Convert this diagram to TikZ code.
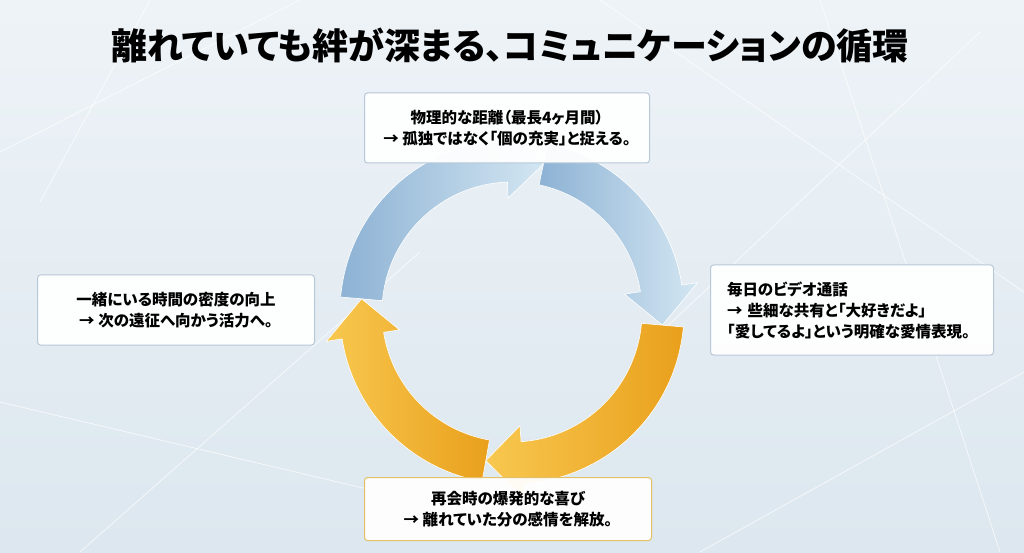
\documentclass[tikz,border=0pt]{standalone}
\usepackage{fontspec}
\setmainfont{Noto Sans CJK JP}[RawFeature=+palt]
\definecolor{bgA}{HTML}{DCE7EF}
\definecolor{bgB}{HTML}{EEF3F7}
\definecolor{blueD}{HTML}{8DB2D4}
\definecolor{blueL}{HTML}{D3E6F2}
\definecolor{orD}{HTML}{E9A01C}
\definecolor{orL}{HTML}{F8C850}
\definecolor{boxline}{HTML}{B7C8D8}
\definecolor{goldline}{HTML}{E3C068}
\begin{document}
\begin{tikzpicture}[x=1pt,y=1pt,
  box/.style={draw=#1,line width=1pt,rounded corners=3pt,fill=white,fill opacity=0.95,text opacity=1,font=\fontsize{15.5}{21}\selectfont\bfseries,inner sep=0pt,align=center},
  blueA/.style={left color=blueD,right color=blueL,draw=white,line width=0.6pt},
  orangeA/.style={right color=orD,left color=orL,draw=white,line width=0.6pt}]
\useasboundingbox (0,0) rectangle (1024,552);
\shade[top color=bgB,bottom color=bgA] (0,0) rectangle (1024,552);
\foreach \a/\b/\c/\d in {0/400/300/552, 80/0/420/300, 600/552/1024/260, 700/0/1024/180, 0/150/380/60, 820/552/1000/0, 150/552/40/350, 640/200/980/520}
  \draw[white,opacity=0.7,line width=0.8pt] (\a,\b) -- (\c,\d);
\node[font=\fontsize{36}{40}\selectfont\bfseries] (title) at (510,507) {離れていても絆が深まる、コミュニケーションの循環};
\begin{scope}[shift={(512,240)}]
\def\ri{130}\def\ro{172}\def\h{14}
\foreach \a/\b/\s in {175/78/blueA, 78/-5/blueA, -5/-100/orangeA, -100/-185/orangeA}{
  \pgfmathsetmacro\bh{\b+\h}
  \shade[\s] (\a:\ro) arc[start angle=\a,end angle=\bh,radius=\ro] -- (\bh:\ro+16) -- (\b:151) -- (\bh:\ri-16) -- (\bh:\ri) arc[start angle=\bh,end angle=\a,radius=\ri] -- cycle;
}
\end{scope}
\node[box=boxline,minimum width=285,minimum height=70] (top) at (507,424) {物理的な距離（最長4ヶ月間）\\→ 孤独ではなく「個の充実」と捉える。};
\node[box=boxline,minimum width=283,minimum height=90,align=left,text width=250] (right) at (852,242) {毎日のビデオ通話\\→ 些細な共有と「大好きだよ」\\「愛してるよ」という明確な愛情表現。};
\node[box=boxline,minimum width=277,minimum height=70] (left) at (176,242) {一緒にいる時間の密度の向上\\→ 次の遠征へ向かう活力へ。};
\node[box=goldline,minimum width=287,minimum height=63] (bottom) at (508,43) {再会時の爆発的な喜び\\→ 離れていた分の感情を解放。};
\end{tikzpicture}
\end{document}
